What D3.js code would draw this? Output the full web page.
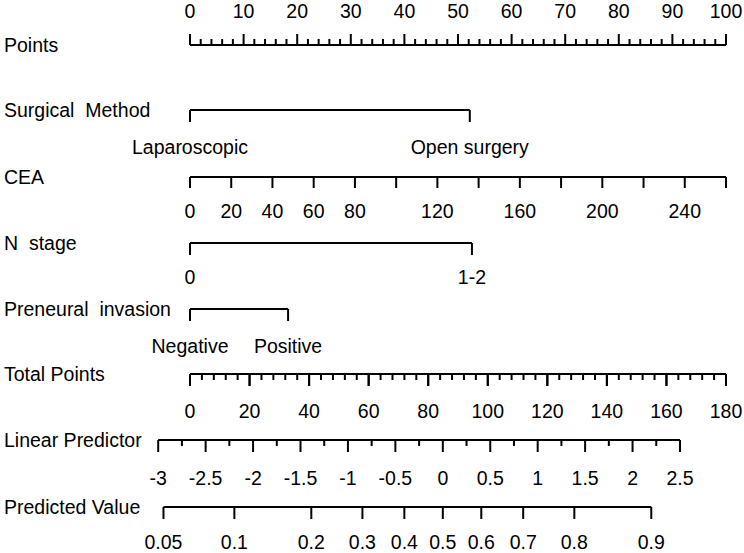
<!DOCTYPE html>
<html>
<head>
<script src="https://d3js.org/d3.v7.min.js"></script>
<style>
  body { margin: 0; background: #fff; }
  text { font-family: "Liberation Sans", Arial, sans-serif; font-size: 19.5px; fill: #000; white-space: pre; }
</style>
</head>
<body>
<div id="container"></div>
<script>
// nomogram values
var pointsLabels = [0, 10, 20, 30, 40, 50, 60, 70, 80, 90, 100];
var surgicalLevels = ["Laparoscopic", "Open surgery"];
var surgicalPoints = [0, 52.2];
var ceaTicks = [0, 20, 40, 60, 80, 100, 120, 140, 160, 180, 200, 220, 240, 260];
var ceaLabels = [0, 20, 40, 60, 80, 120, 160, 200, 240];
var ceaMax = 260;           // CEA value giving 100 points
var nLevels = ["0", "1-2"];
var nPoints = [0, 52.6];
var pniLevels = ["Negative", "Positive"];
var pniPoints = [0, 18.3];
var totalLabels = [0, 20, 40, 60, 80, 100, 120, 140, 160, 180];
var lpLabels = [-3, -2.5, -2, -1.5, -1, -0.5, 0, 0.5, 1, 1.5, 2, 2.5];
var lpAtZero = 84.9;        // total points where linear predictor = 0
var lpPerUnit = 31.86;      // total points per unit of linear predictor
var predLabels = [0.05, 0.1, 0.2, 0.3, 0.4, 0.5, 0.6, 0.7, 0.8, 0.9];

var width = 744, height = 553;
var svg = d3.select("#container").append("svg")
  .attr("width", width).attr("height", height);

var xPts = d3.scaleLinear().domain([0, 100]).range([190, 726]);
var xTot = d3.scaleLinear().domain([0, 180]).range([190, 726]);
var xLp = d3.scaleLinear().domain([-3, 2.5])
  .range([xTot(lpAtZero - 3 * lpPerUnit), xTot(lpAtZero + 2.5 * lpPerUnit)]);
var xCea = function(v) { return xPts(v / ceaMax * 100); };
var logit = function(p) { return Math.log(p / (1 - p)); };

// draw one scale row
function row(name, y, x0, x1, ticks, up) {
  svg.append("text").attr("x", 4).attr("y", y + 7).text(name);
  svg.append("line").attr("x1", x0).attr("x2", x1).attr("y1", y).attr("y2", y)
    .attr("stroke", "#000").attr("stroke-width", 2);
  svg.selectAll(null).data(ticks).enter().append("line")
    .attr("x1", function(d) { return d.x; }).attr("x2", function(d) { return d.x; })
    .attr("y1", y).attr("y2", function(d) { return up ? y - d.len : y + d.len; })
    .attr("stroke", "#000").attr("stroke-width", 2);
}
function labels(items, y) {
  svg.selectAll(null).data(items).enter().append("text")
    .attr("x", function(d) { return d.x; }).attr("y", y)
    .attr("text-anchor", "middle").text(function(d) { return d.t; });
}

// Points
var ptTicks = d3.range(0, 101, 2).map(function(v) { return {x: xPts(v), len: v % 10 === 0 ? 11 : 6}; });
row("Points", 45, xPts(0), xPts(100), ptTicks, true);
labels(pointsLabels.map(function(v) { return {x: xPts(v), t: v}; }), 18);

// Surgical Method
row("Surgical  Method", 110, xPts(surgicalPoints[0]), xPts(surgicalPoints[1]),
  surgicalPoints.map(function(p) { return {x: xPts(p), len: 12}; }));
labels(surgicalLevels.map(function(t, i) { return {x: xPts(surgicalPoints[i]), t: t}; }), 154);

// CEA
row("CEA", 177, xCea(0), xCea(ceaMax), ceaTicks.map(function(v) { return {x: xCea(v), len: 11}; }));
labels(ceaLabels.map(function(v) { return {x: xCea(v), t: v}; }), 218);

// N stage
row("N  stage", 243, xPts(nPoints[0]), xPts(nPoints[1]),
  nPoints.map(function(p) { return {x: xPts(p), len: 12}; }));
labels(nLevels.map(function(t, i) { return {x: xPts(nPoints[i]), t: t}; }), 284);

// Preneural invasion
row("Preneural  invasion", 309, xPts(pniPoints[0]), xPts(pniPoints[1]),
  pniPoints.map(function(p) { return {x: xPts(p), len: 12}; }));
labels(pniLevels.map(function(t, i) { return {x: xPts(pniPoints[i]), t: t}; }), 353);

// Total Points
var totTicks = d3.range(0, 181, 4).concat(totalLabels)
  .map(function(v) { return {x: xTot(v), len: v % 20 === 0 ? 12 : 6}; });
row("Total Points", 374, xTot(0), xTot(180), totTicks);
labels(totalLabels.map(function(v) { return {x: xTot(v), t: v}; }), 418);

// Linear Predictor
var lpTicks = d3.range(-3, 2.51, 0.25).map(function(v) {
  return {x: xLp(v), len: Math.abs(v * 2 - Math.round(v * 2)) < 1e-6 ? 12 : 6};
});
row("Linear Predictor", 440, xLp(-3), xLp(2.5), lpTicks);
labels(lpLabels.map(function(v) { return {x: xLp(v), t: v}; }), 485);

// Predicted Value
row("Predicted Value", 507, xLp(logit(0.05)), xLp(logit(0.9)),
  predLabels.map(function(p) { return {x: xLp(logit(p)), len: 12}; }));
labels(predLabels.map(function(p) { return {x: xLp(logit(p)), t: p}; }), 549);
</script>
</body>
</html>
